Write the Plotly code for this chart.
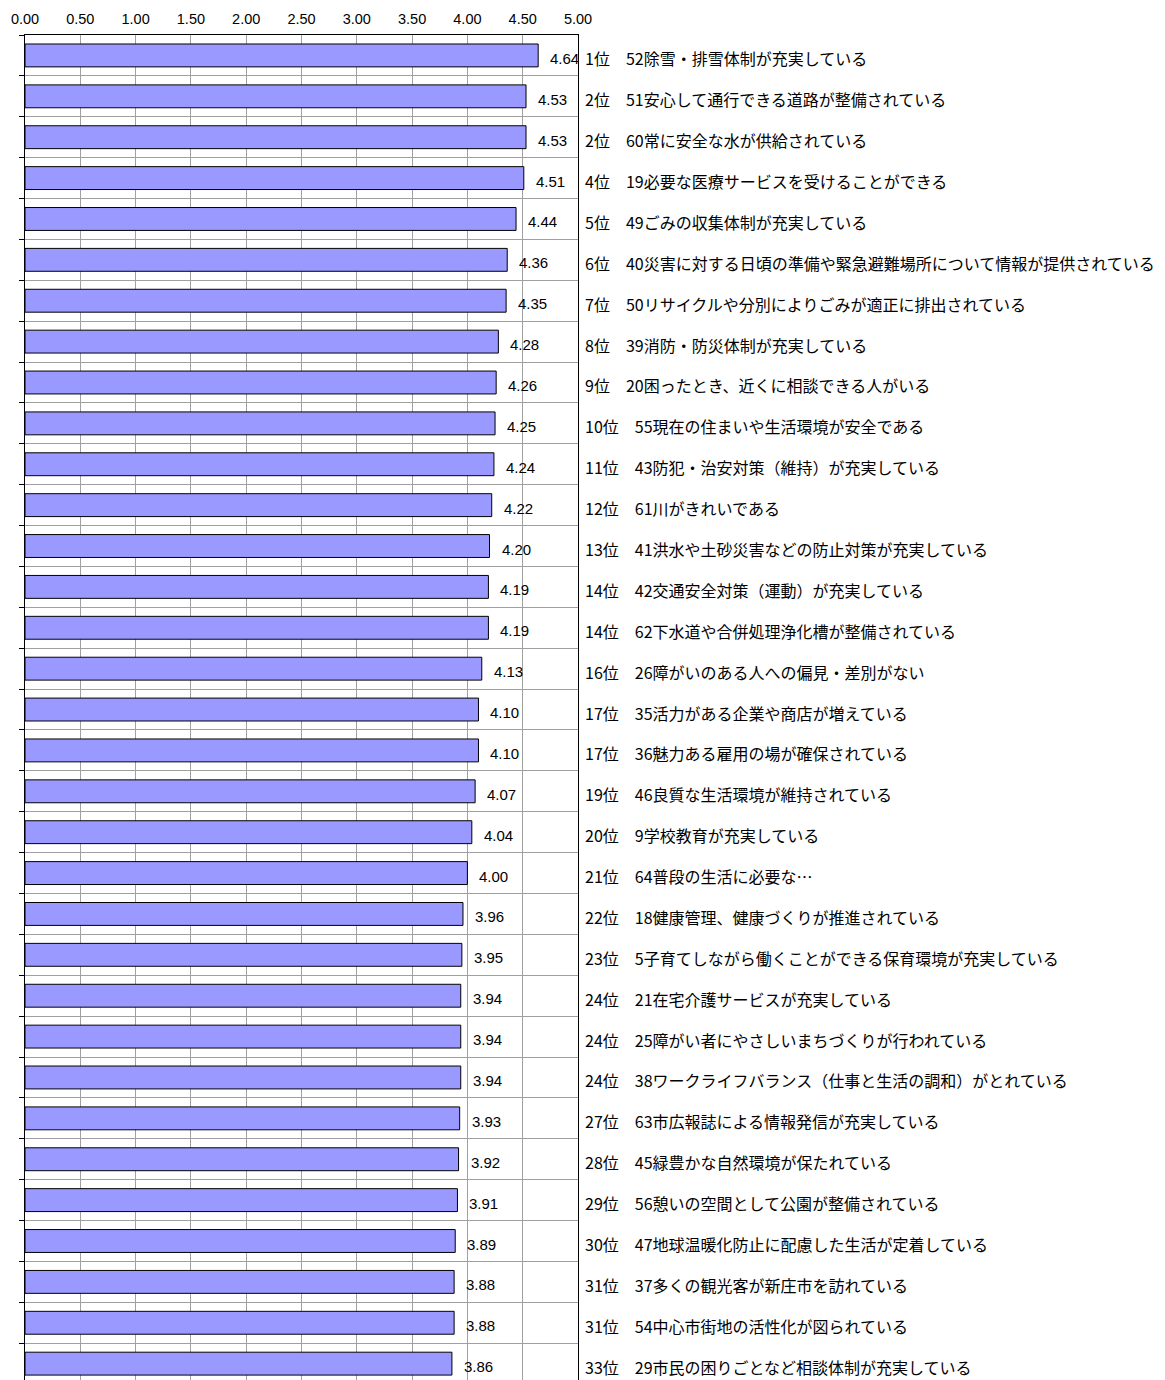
import plotly.graph_objects as go

ranks = ["1位", "2位", "2位", "4位", "5位", "6位", "7位", "8位", "9位", "10位",
         "11位", "12位", "13位", "14位", "14位", "16位", "17位", "17位", "19位", "20位",
         "21位", "22位", "23位", "24位", "24位", "24位", "27位", "28位", "29位", "30位",
         "31位", "31位", "33位"]

items = [
    "52除雪・排雪体制が充実している",
    "51安心して通行できる道路が整備されている",
    "60常に安全な水が供給されている",
    "19必要な医療サービスを受けることができる",
    "49ごみの収集体制が充実している",
    "40災害に対する日頃の準備や緊急避難場所について情報が提供されている",
    "50リサイクルや分別によりごみが適正に排出されている",
    "39消防・防災体制が充実している",
    "20困ったとき、近くに相談できる人がいる",
    "55現在の住まいや生活環境が安全である",
    "43防犯・治安対策（維持）が充実している",
    "61川がきれいである",
    "41洪水や土砂災害などの防止対策が充実している",
    "42交通安全対策（運動）が充実している",
    "62下水道や合併処理浄化槽が整備されている",
    "26障がいのある人への偏見・差別がない",
    "35活力がある企業や商店が増えている",
    "36魅力ある雇用の場が確保されている",
    "46良質な生活環境が維持されている",
    "9学校教育が充実している",
    "64普段の生活に必要な…",
    "18健康管理、健康づくりが推進されている",
    "5子育てしながら働くことができる保育環境が充実している",
    "21在宅介護サービスが充実している",
    "25障がい者にやさしいまちづくりが行われている",
    "38ワークライフバランス（仕事と生活の調和）がとれている",
    "63市広報誌による情報発信が充実している",
    "45緑豊かな自然環境が保たれている",
    "56憩いの空間として公園が整備されている",
    "47地球温暖化防止に配慮した生活が定着している",
    "37多くの観光客が新庄市を訪れている",
    "54中心市街地の活性化が図られている",
    "29市民の困りごとなど相談体制が充実している",
]

scores = [4.64, 4.53, 4.53, 4.51, 4.44, 4.36, 4.35, 4.28, 4.26, 4.25,
          4.24, 4.22, 4.20, 4.19, 4.19, 4.13, 4.10, 4.10, 4.07, 4.04,
          4.00, 3.96, 3.95, 3.94, 3.94, 3.94, 3.93, 3.92, 3.91, 3.89,
          3.88, 3.88, 3.86]

x_ticks = [0, 0.5, 1, 1.5, 2, 2.5, 3, 3.5, 4, 4.5, 5]

fig = go.Figure()
fig.add_trace(go.Bar(
    x=scores, y=items, orientation="h",
    marker=dict(color="#9999FF", line=dict(color="#000000", width=1)),
    width=0.56, hoverinfo="skip",
))

annotations = []
for r, it, v in zip(ranks, items, scores):
    annotations.append(dict(
        x=v, y=it, xref="x", yref="y", text=f"{v:.2f}", showarrow=False,
        xanchor="left", yanchor="middle", xshift=10, yshift=-3,
        font=dict(family="Liberation Sans, Arial", size=15, color="#000000"),
    ))
    annotations.append(dict(
        x=1, y=it, xref="paper", yref="y", text=f"{r}\u3000{it}", showarrow=False,
        xanchor="left", yanchor="middle", xshift=5, yshift=-3,
        font=dict(family="Noto Sans CJK JP", size=16, color="#000000"),
    ))

# the page body adds an 8px margin, so the figure is sized/offset to compensate
fig.update_layout(
    width=1157, height=1372,
    margin=dict(l=17, r=587, t=27, b=0, pad=0, autoexpand=False),
    paper_bgcolor="white", plot_bgcolor="white",
    showlegend=False,
    annotations=annotations,
    bargap=0.44,
)
fig.update_xaxes(
    side="top", range=[0, 5], tickvals=x_ticks, tickformat=".2f",
    showgrid=True, gridcolor="#a0a0a0", gridwidth=1,
    showline=True, linecolor="#000000", linewidth=1, mirror=False,
    ticks="", zeroline=False, automargin=False, ticklabelstandoff=4,
    tickfont=dict(family="Liberation Sans, Arial", size=14.5, color="#000000"),
)
fig.update_yaxes(
    type="category", categoryorder="array", categoryarray=items,
    range=[32.4, -0.5], showticklabels=False, automargin=False,
    tickson="boundaries", ticks="outside", ticklen=5, tickcolor="#000000", tickwidth=1,
    showgrid=True, gridcolor="#a0a0a0", gridwidth=1,
    showline=True, linecolor="#000000", linewidth=1, mirror=True,
    zeroline=False,
)

fig.write_html("out.html", config={"displayModeBar": False})
